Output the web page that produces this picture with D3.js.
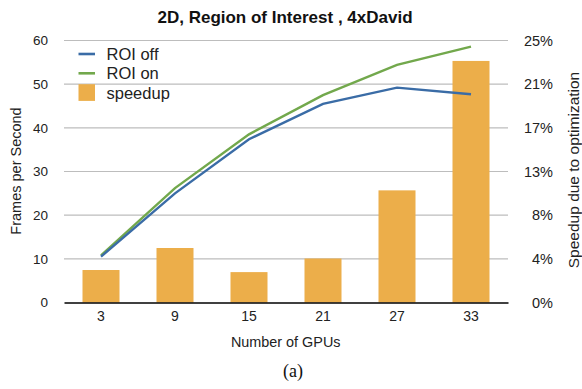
<!DOCTYPE html>
<html><head><meta charset="utf-8">
<script src="https://cdn.jsdelivr.net/npm/d3@7"></script>
<style>body{margin:0;background:#fff}svg{display:block}</style>
</head><body>
<svg id="c" width="582" height="389"></svg>
<script>
const categories = ["3","9","15","21","27","33"];
const roiOff = [10.5, 25.0, 37.4, 45.5, 49.2, 47.7];
const roiOn = [10.8, 26.2, 38.5, 47.5, 54.4, 58.6];
const speedup = [3.1, 5.2, 2.9, 4.2, 10.7, 23.05];
const leftTicks = [0,10,20,30,40,50,60];
const rightTicks = [0, 25/6, 50/6, 12.5, 50/3, 125/6, 25];
const rightTickLabels = ["0%","4%","8%","13%","17%","21%","25%"];

const svg = d3.select("#c");
const L = 64, R = 508, T = 40.5, B = 302.5;
const font = "Liberation Sans, Arial, Helvetica, sans-serif";

const x = d3.scaleBand().domain(categories).range([L, R]).paddingInner(0.5).paddingOuter(0.25);
const y = d3.scaleLinear().domain([0, 60]).range([B, T]);
const y2 = d3.scaleLinear().domain([0, 25]).range([B, T]);

// gridlines
svg.append("g").selectAll("line").data(leftTicks.filter(d => d > 0)).join("line")
  .attr("x1", L).attr("x2", R).attr("y1", d => y(d)).attr("y2", d => y(d))
  .attr("stroke", "#bdbdbd").attr("stroke-width", 1.2);

// left axis labels
const la = d3.axisLeft(y).tickValues(leftTicks).tickSize(0).tickPadding(16);
const gl = svg.append("g").attr("transform", `translate(${L},0)`).call(la);
gl.select(".domain").remove();
gl.selectAll("text").attr("font-family", font).attr("font-size", 13.5).attr("fill", "#222");

// right axis labels (right-aligned)
const ra = d3.axisRight(y2).tickValues(rightTicks).tickFormat((d,i) => rightTickLabels[i]).tickSize(0).tickPadding(45);
const gr = svg.append("g").attr("transform", `translate(${R},0)`).call(ra);
gr.select(".domain").remove();
gr.selectAll("text").attr("font-family", font).attr("font-size", 14.5).attr("fill", "#222")
  .attr("text-anchor", "end");

// bars
svg.append("g").selectAll("rect").data(speedup).join("rect")
  .attr("x", (d,i) => x(categories[i])).attr("width", x.bandwidth())
  .attr("y", d => y2(d)).attr("height", d => B - y2(d))
  .attr("fill", "#ecae4a");

// x axis
const xa = d3.axisBottom(x).tickSize(0).tickPadding(9);
const gx = svg.append("g").attr("transform", `translate(0,${B})`).call(xa);
gx.select(".domain").attr("stroke", "#000").attr("stroke-width", 1.4);
gx.selectAll("text").attr("font-family", font).attr("font-size", 14).attr("fill", "#222");

// lines
const line = d3.line().x((d,i) => x(categories[i]) + x.bandwidth()/2).y(d => y(d));
svg.append("path").datum(roiOn).attr("d", line).attr("fill", "none")
  .attr("stroke", "#72a84c").attr("stroke-width", 2.4);
svg.append("path").datum(roiOff).attr("d", line).attr("fill", "none")
  .attr("stroke", "#3a6ca6").attr("stroke-width", 2.4);

// title
svg.append("text").attr("x", 285).attr("y", 22.5).attr("text-anchor", "middle")
  .attr("font-family", font).attr("font-weight", "bold").attr("font-size", 17)
  .attr("fill", "#111").text("2D, Region of Interest , 4xDavid");

// axis titles
svg.append("text").attr("transform", "translate(21,171) rotate(-90)").attr("text-anchor", "middle")
  .attr("font-family", font).attr("font-size", 14.5).attr("fill", "#222").text("Frames per Second");
svg.append("text").attr("transform", "translate(578.5,170) rotate(-90)").attr("text-anchor", "middle")
  .attr("font-family", font).attr("font-size", 15.5).attr("fill", "#222").text("Speedup due to optimization");
svg.append("text").attr("x", 285.7).attr("y", 347).attr("text-anchor", "middle")
  .attr("font-family", font).attr("font-size", 14.4).attr("fill", "#222").text("Number of GPUs");
svg.append("text").attr("x", 293).attr("y", 377).attr("text-anchor", "middle")
  .attr("font-family", "Liberation Serif, Times New Roman, serif").attr("font-size", 18).attr("fill", "#111").text("(a)");

// legend
const lg = svg.append("g");
const legendItems = [
  {name: "ROI off", color: "#3a6ca6", type: "line", y: 54},
  {name: "ROI on", color: "#72a84c", type: "line", y: 73.3},
  {name: "speedup", color: "#ecae4a", type: "rect", y: 92.5}
];
legendItems.forEach(it => {
  if (it.type === "line") {
    lg.append("line").attr("x1", 78.5).attr("x2", 95).attr("y1", it.y).attr("y2", it.y)
      .attr("stroke", it.color).attr("stroke-width", 2.6);
  } else {
    lg.append("rect").attr("x", 78.5).attr("y", it.y - 8.3).attr("width", 16.5).attr("height", 16.7).attr("fill", it.color);
  }
  lg.append("text").attr("x", 106.5).attr("y", it.y + 6).attr("font-family", font).attr("font-size", 16.5)
    .attr("fill", "#222").text(it.name);
});
</script>
</body></html>
